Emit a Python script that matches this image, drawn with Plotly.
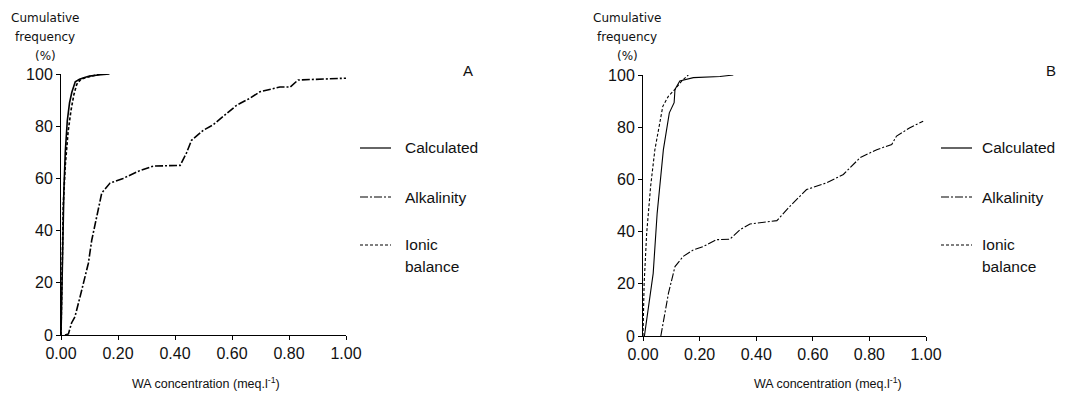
import plotly.graph_objects as go

# Panel A - cumulative frequency vs WA concentration
a_calc_x = [0.0, 0.003, 0.006, 0.01, 0.015, 0.022, 0.03, 0.038, 0.05, 0.065, 0.08, 0.1, 0.13, 0.17]
a_calc_y = [0, 20, 40, 55, 70, 82, 89, 93, 97, 98, 98.6, 99.2, 99.6, 100]
a_ion_x = [0.0, 0.004, 0.008, 0.015, 0.025, 0.035, 0.045, 0.055, 0.07, 0.1, 0.14]
a_ion_y = [0, 30, 50, 65, 78, 86, 92, 96, 98, 99, 100]
a_alk_x = [0.014, 0.026, 0.037, 0.049, 0.067, 0.084, 0.096, 0.108, 0.125, 0.143, 0.172, 0.218,
           0.277, 0.323, 0.418, 0.44, 0.458, 0.5, 0.533, 0.581, 0.616, 0.663, 0.698, 0.768,
           0.804, 0.832, 0.884, 1.0]
a_alk_y = [0, 0.4, 4.6, 7, 14.7, 22, 27.5, 36.4, 45.3, 54.4, 58.2, 60, 63, 64.7, 65, 69.7, 74.6,
           78.5, 80.5, 85, 88, 90.7, 93.2, 95, 95, 97.7, 98, 98.4]

# Panel B
b_calc_x = [0.005, 0.025, 0.036, 0.05, 0.06, 0.072, 0.093, 0.11, 0.113, 0.13, 0.178, 0.272, 0.319]
b_calc_y = [0, 16.4, 24, 47, 57.4, 71.4, 85.5, 89.4, 94.5, 97.7, 99, 99.4, 100]
b_ion_x = [0.0, 0.004, 0.013, 0.027, 0.042, 0.058, 0.07, 0.09, 0.113, 0.137, 0.16]
b_ion_y = [0, 20, 39.4, 57.4, 71.4, 80.4, 88, 91.9, 94.5, 97.7, 100]
b_alk_x = [0.063, 0.078, 0.09, 0.113, 0.142, 0.178, 0.213, 0.26, 0.307, 0.343, 0.378, 0.473,
           0.519, 0.578, 0.649, 0.708, 0.767, 0.826, 0.879, 0.896, 0.943, 0.99]
b_alk_y = [0, 10, 16.4, 26.6, 30.5, 33, 34.3, 36.9, 37.1, 40.7, 42.9, 44.2, 49.7, 56.1, 58.7,
           61.9, 68.3, 71.4, 73.4, 76.6, 79.8, 82.3]

x_ticks = [0, 0.2, 0.4, 0.6, 0.8, 1.0]
x_labels = ["0.00", "0.20", "0.40", "0.60", "0.80", "1.00"]
y_ticks = [0, 20, 40, 60, 80, 100]
legend_names = ["Calculated", "Alkalinity", "Ionic"]

# page body has an 8px margin, keep the figure inside the window
OFF = 8
W, H = 1065 - 2 * OFF, 402 - 2 * OFF
FONT = "Liberation Sans, Arial, sans-serif"
FONT_SMALL = "DejaVu Sans, sans-serif"


def px(x, y):
    return (x - OFF) / W, 1 - (y - OFF) / H


def xdom(a, b):
    return [px(a, 0)[0], px(b, 0)[0]]


def ydom(bottom, top):
    return [px(0, bottom)[1], px(0, top)[1]]


fig = go.Figure()

styles = {
    "calc": dict(color="black", dash="solid"),
    "alk": dict(color="black", dash="8px,2px,2px,2px"),
    "ion": dict(color="black", dash="3px,2px"),
}

for xa, ya, w, series in [
    ("x", "y", 1.6, [(a_calc_x, a_calc_y, "calc"), (a_ion_x, a_ion_y, "ion"), (a_alk_x, a_alk_y, "alk")]),
    ("x2", "y2", 1.1, [(b_calc_x, b_calc_y, "calc"), (b_ion_x, b_ion_y, "ion"), (b_alk_x, b_alk_y, "alk")]),
]:
    for xs, ys, key in series:
        fig.add_trace(go.Scatter(x=xs, y=ys, mode="lines", xaxis=xa, yaxis=ya,
                                 line=dict(width=w, **styles[key]), showlegend=False,
                                 hoverinfo="skip"))

axis_common = dict(showgrid=False, zeroline=False, showline=True, linecolor="black",
                   linewidth=1, ticks="outside", ticklen=4, tickcolor="black", automargin=False,
                   tickfont=dict(family=FONT, size=16, color="#111"))

fig.update_layout(
    width=W, height=H,
    margin=dict(l=0, r=0, t=0, b=0, autoexpand=False),
    plot_bgcolor="white", paper_bgcolor="white",
    font=dict(family=FONT, color="#111"),
    xaxis=dict(domain=xdom(61, 346), range=[0, 1], anchor="y",
               tickvals=x_ticks, ticktext=x_labels, **axis_common),
    yaxis=dict(domain=ydom(335, 74), range=[0, 100], anchor="x",
               tickvals=y_ticks, **axis_common),
    xaxis2=dict(domain=xdom(643, 926), range=[0, 1], anchor="y2",
                tickvals=x_ticks, ticktext=x_labels, **axis_common),
    yaxis2=dict(domain=ydom(336, 75), range=[0, 100], anchor="x2",
                tickvals=y_ticks, **axis_common),
)


def label(x, y, text, size, family=FONT, xanchor="center"):
    ax, ay = px(x, y)
    return dict(x=ax, y=ay, xref="paper", yref="paper", text=text, showarrow=False,
                xanchor=xanchor, yanchor="middle", font=dict(size=size, family=family))


ann = []
shapes = []
for x0, lx0, tx, letter, letter_x, xt_x in [(45, 360, 403, "A", 468, 206), (627, 941, 980, "B", 1051, 828)]:
    for txt, yy in [("Cumulative", 18), ("frequency", 37), ("(%)", 56)]:
        ann.append(label(x0, yy, txt, 12, FONT_SMALL))
    ann.append(label(letter_x, 70, letter, 15))
    ann.append(label(xt_x, 383, "WA concentration (meq.l<sup>-1</sup>)", 12.5))
    for name, key, yy in zip(legend_names, ["calc", "alk", "ion"], [148, 197, 245]):
        sx0, sy = px(lx0, yy)
        sx1, _ = px(lx0 + 31, yy)
        shapes.append(dict(type="line", xref="paper", yref="paper", x0=sx0, x1=sx1, y0=sy, y1=sy,
                           line=dict(width=1.2, **styles[key])))
        ann.append(label(tx, yy, name, 15.5, xanchor="left"))
    ann.append(label(tx, 266, "balance", 15.5, xanchor="left"))

fig.update_layout(annotations=ann, shapes=shapes)

fig.write_html("out.html")
